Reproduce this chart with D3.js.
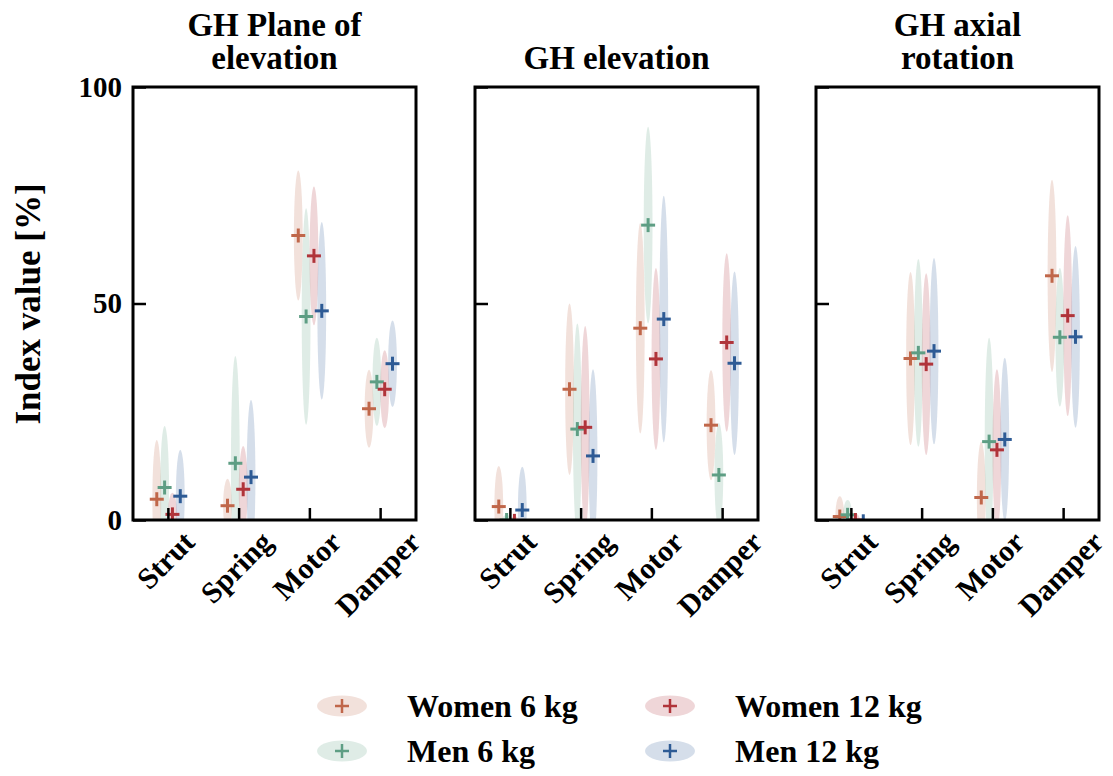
<!DOCTYPE html>
<html>
<head>
<meta charset="utf-8">
<script src="https://cdn.jsdelivr.net/npm/d3@7"></script>
<style>
  body { margin: 0; background: #fff; }
  text { font-family: "Liberation Serif", "Times New Roman", serif; font-weight: bold; fill: #000; }
</style>
</head>
<body>
<div class="chart"></div>
<script>
const width = 1113;
const height = 776;

const categories = ["Strut", "Spring", "Motor", "Damper"];
const groups = ["Women 6 kg", "Men 6 kg", "Women 12 kg", "Men 12 kg"];
const colors = ["#c0674a", "#5e9e84", "#b0343a", "#2e5b95"];
const panelTitles = [["GH Plane of", "elevation"], ["GH elevation"], ["GH axial", "rotation"]];
const yTicks = [0, 50, 100];

// mean[group][category] and sd[group][category]
const poeMean = [[4.8, 3.3, 65.7, 25.7], [7.5, 13.1, 47, 31.9], [1.3, 7.1, 61, 30.2], [5.5, 9.9, 48.3, 36.1]];
const poeSd = [[13.7, 6.2, 15, 9], [14.2, 24.8, 25, 10.2], [5, 10, 16, 9], [10.7, 17.8, 20.5, 10]];
const elevMean = [[3.1, 30.2, 44.3, 21.9], [0, 21, 68.1, 10.4], [-0.2, 21.4, 37.2, 41], [2.3, 14.8, 46.4, 36.2]];
const elevSd = [[9.4, 19.8, 24.3, 12.7], [1.2, 24.4, 22.7, 12], [1, 23.4, 21, 20.6], [10, 20, 28.5, 21.2]];
const axMean = [[0.8, 37.3, 5.2, 56.4], [1.2, 38.6, 18.1, 42.2], [0, 36, 16.2, 47.2], [-0.3, 39, 18.6, 42.3]];
const axSd = [[4.7, 20, 12.9, 22.2], [3.4, 21.7, 24, 16], [1.5, 21, 18.6, 23.2], [0.6, 21.5, 18.9, 21]];

const panels = [[poeMean, poeSd], [elevMean, elevSd], [axMean, axSd]];

const svg = d3.select(".chart").append("svg").attr("width", width).attr("height", height);

const panelLeft = [133, 475, 816];
const panelW = 283;
const plotTop = 87, plotBottom = 520;

const y = d3.scaleLinear().domain([0, 100]).range([plotBottom, plotTop]);
const off = d3.scalePoint().domain(groups).range([-11.6, 11.9]);

function cross(g, cx, cy, size, color, sw) {
    g.append("line").attr("x1", cx - size).attr("x2", cx + size).attr("y1", cy).attr("y2", cy)
        .attr("stroke", color).attr("stroke-width", sw);
    g.append("line").attr("x1", cx).attr("x2", cx).attr("y1", cy - size).attr("y2", cy + size)
        .attr("stroke", color).attr("stroke-width", sw);
}

panels.forEach((p, pi) => {
    const [mean, sd] = p;
    const left = panelLeft[pi];
    const x = d3.scaleBand().domain(categories).range([left, left + panelW]);
    const g = svg.append("g");

    svg.append("clipPath").attr("id", "clip" + pi)
        .append("rect").attr("x", left).attr("y", plotTop).attr("width", panelW).attr("height", plotBottom - plotTop);
    const plot = g.append("g").attr("clip-path", "url(#clip" + pi + ")");

    groups.forEach((grp, gi) => {
        categories.forEach((c, ci) => {
            const cx = x(c) + x.bandwidth() / 2 + off(grp);
            const m = mean[gi][ci], s = sd[gi][ci];
            plot.append("ellipse")
                .attr("cx", cx).attr("cy", y(m))
                .attr("rx", 4.4).attr("ry", y(0) - y(s))
                .attr("fill", colors[gi]).attr("fill-opacity", 0.2);
        });
    });
    groups.forEach((grp, gi) => {
        categories.forEach((c, ci) => {
            const cx = x(c) + x.bandwidth() / 2 + off(grp);
            cross(plot, cx, y(mean[gi][ci]), 7, colors[gi], 3);
        });
    });

    // frame
    g.append("rect").attr("x", left).attr("y", plotTop).attr("width", panelW).attr("height", plotBottom - plotTop)
        .attr("fill", "none").attr("stroke", "#000").attr("stroke-width", 3);

    // y axis
    const ya = g.append("g").attr("transform", `translate(${left},0)`)
        .call(d3.axisLeft(y).tickValues(yTicks).tickSize(-13).tickPadding(11));
    ya.select(".domain").remove();
    ya.selectAll("line").attr("stroke", "#000").attr("stroke-width", 2.5);
    ya.selectAll("text").style("font-size", "29px").style("font-family", "Liberation Serif").style("font-weight", "bold")
        .attr("fill", "#000");
    if (pi > 0) ya.selectAll("text").remove();

    // x axis
    const xa = g.append("g").attr("transform", `translate(0,${plotBottom})`)
        .call(d3.axisBottom(x).tickSize(-12).tickFormat(""));
    xa.select(".domain").remove();
    xa.selectAll("line").attr("stroke", "#000").attr("stroke-width", 2.5);

    categories.forEach(c => {
        const fs = 30;
        const t = g.append("text").text(c).style("font-size", fs + "px")
            .attr("text-anchor", "middle").attr("dominant-baseline", "central");
        const w = t.node().getComputedTextLength();
        const h = 0.8 * fs;
        const cx = x(c) + x.bandwidth() / 2 - 3;
        const cy = plotBottom + 8 + (w + h) * Math.SQRT1_2 / 2;
        t.attr("transform", `translate(${cx},${cy}) rotate(-45)`);
    });

    // title, one text with tspans per line
    const lines = panelTitles[pi];
    const tt = g.append("text").style("font-size", "33px").attr("text-anchor", "middle");
    lines.forEach((ln, li) => {
        tt.append("tspan").text(ln)
            .attr("x", left + panelW / 2)
            .attr("y", 69 - (lines.length - 1 - li) * 33);
    });
});

svg.append("text").text("Index value [%]").style("font-size", "35px")
    .attr("text-anchor", "middle")
    .attr("transform", `translate(40,304) rotate(-90)`);

// legend: women on first row, men on second; 6 kg left, 12 kg right
const legX = [342, 342, 670, 670];
const legY = [706, 751, 706, 751];
groups.forEach((grp, gi) => {
    const lx = legX[gi], ly = legY[gi];
    const lg = svg.append("g");
    lg.append("ellipse").attr("cx", lx).attr("cy", ly).attr("rx", 25).attr("ry", 10.5)
        .attr("fill", colors[gi]).attr("fill-opacity", 0.2);
    cross(lg, lx, ly, 7, colors[gi], 2.5);
    lg.append("text").text(grp).style("font-size", "32px")
        .attr("x", lx + 65).attr("y", ly + 11);
});
</script>
</body>
</html>
